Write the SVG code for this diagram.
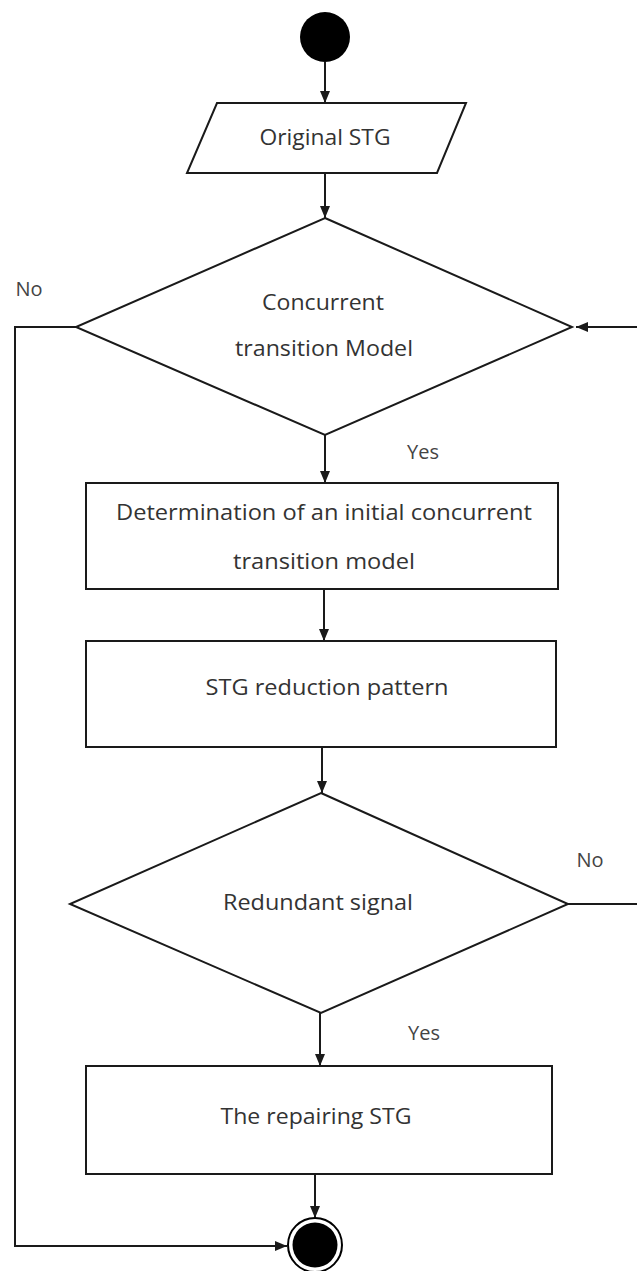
<svg xmlns="http://www.w3.org/2000/svg" width="637" height="1271" viewBox="0 0 637 1271">
  <style>
    .shape { fill: #ffffff; stroke: #1a1a1a; stroke-width: 2; }
    .edge { fill: none; stroke: #1a1a1a; stroke-width: 2; }
    .label { font-family: "Open Sans", "Liberation Sans", sans-serif; font-size: 22px; fill: #333333; text-anchor: middle; }
    .tag { font-family: "Open Sans", "Liberation Sans", sans-serif; font-size: 20px; fill: #444444; text-anchor: middle; }
  </style>
  <defs>
    <marker id="arrow" viewBox="0 0 12 10" refX="12" refY="5" markerWidth="12" markerHeight="10" markerUnits="userSpaceOnUse" orient="auto">
      <path d="M0,0 L12,5 L0,10 Z" fill="#1a1a1a"/>
    </marker>
  </defs>
  <rect width="637" height="1271" fill="#ffffff"/>

  <!-- connectors -->
  <g id="connectors">
    <path class="edge" d="M325,62 V103" marker-end="url(#arrow)"/>
    <path class="edge" d="M325,173 V218" marker-end="url(#arrow)"/>
    <path class="edge" d="M325,435 V483" marker-end="url(#arrow)"/>
    <path class="edge" d="M324,589 V641" marker-end="url(#arrow)"/>
    <path class="edge" d="M322,747 V793" marker-end="url(#arrow)"/>
    <path class="edge" d="M320,1013 V1066" marker-end="url(#arrow)"/>
    <path class="edge" d="M315,1174 V1218" marker-end="url(#arrow)"/>
    <!-- "No" branch of the first decision to the final node -->
    <path class="edge" d="M76,327 H15 V1246 H287" marker-end="url(#arrow)"/>
    <!-- "No" branch of the second decision loops back to the first decision -->
    <path class="edge" d="M568,904 H642 V327 H576" marker-end="url(#arrow)"/>
    <text class="tag" x="29" y="296">No</text>
    <text class="tag" x="423" y="459">Yes</text>
    <text class="tag" x="590" y="867">No</text>
    <text class="tag" x="424" y="1040">Yes</text>
  </g>

  <g id="start">
    <circle cx="325" cy="37" r="25" fill="#000000"/>
  </g>

  <g id="original-stg">
    <polygon class="shape" points="217,103 466,103 437,173 187,173"/>
    <text class="label" x="325" y="145" textLength="131" lengthAdjust="spacingAndGlyphs">Original STG</text>
  </g>

  <g id="decision-concurrent">
    <polygon class="shape" points="325,218 572,327 325,435 76,327"/>
    <text class="label" x="323" y="310" textLength="122" lengthAdjust="spacingAndGlyphs">Concurrent</text>
    <text class="label" x="324" y="356" textLength="178" lengthAdjust="spacingAndGlyphs">transition Model</text>
  </g>

  <g id="initial-model">
    <rect class="shape" x="86" y="483" width="472" height="106"/>
    <text class="label" x="324" y="520" textLength="416" lengthAdjust="spacingAndGlyphs">Determination of an initial concurrent</text>
    <text class="label" x="324" y="569" textLength="182" lengthAdjust="spacingAndGlyphs">transition model</text>
  </g>

  <g id="reduction-pattern">
    <rect class="shape" x="86" y="641" width="470" height="106"/>
    <text class="label" x="327" y="695" textLength="243" lengthAdjust="spacingAndGlyphs">STG reduction pattern</text>
  </g>

  <g id="decision-redundant">
    <polygon class="shape" points="321,793 568,904 321,1013 70,904"/>
    <text class="label" x="318" y="910" textLength="190" lengthAdjust="spacingAndGlyphs">Redundant signal</text>
  </g>

  <g id="repairing-stg">
    <rect class="shape" x="86" y="1066" width="466" height="108"/>
    <text class="label" x="316" y="1124" textLength="191" lengthAdjust="spacingAndGlyphs">The repairing STG</text>
  </g>

  <g id="end">
    <circle cx="315" cy="1245" r="27" fill="#ffffff" stroke="#000000" stroke-width="2"/>
    <circle cx="315" cy="1245" r="22.5" fill="#000000"/>
  </g>
</svg>
